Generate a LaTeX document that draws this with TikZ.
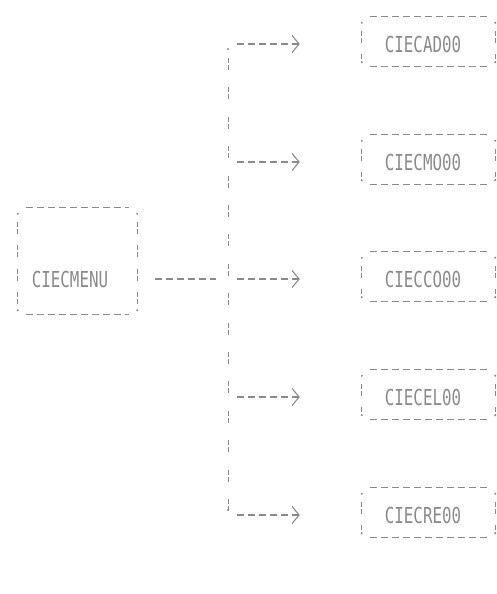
\documentclass[tikz,border=0pt]{standalone}
\usepackage{fontspec}
\newfontfamily\dotfont[FakeStretch=0.72]{DejaVu Sans Mono}
\usetikzlibrary{arrows.meta,calc}
\definecolor{ink}{HTML}{8A8A8A}
\begin{document}
\begin{tikzpicture}[x=1pt,y=-1pt,
  hdash/.style={draw=ink, line width=1.2pt, dash pattern=on 7pt off 4pt},
  vdash/.style={draw=ink, line width=1pt, dash pattern=on 5pt off 2pt on 5pt off 17.4pt},
  sidedash/.style={draw=ink, line width=1pt, dash pattern=on 5pt off 2pt on 5pt off 11.5pt},
  lbl/.style={text=ink, font=\dotfont\fontsize{22}{22}\selectfont, inner sep=0pt},
  frame/.style={inner sep=0pt, minimum width=#1},
  arr/.style={-{Straight Barb[length=7pt,width=17pt,line width=1.1pt]}},
  cdot/.style={fill=ink, draw=none, circle, inner sep=0pt, minimum size=2.2pt}]
\useasboundingbox (0,0) rectangle (497,594);

% left box
\node[frame=119pt, minimum height=106pt] (mframe) at (77.5,261) {};
\node[lbl] (menu) at (70,279) {CIECMENU};

% right boxes
\foreach \i/\y/\t in {1/44/CIECAD00, 2/162/CIECMO00, 3/279/CIECCO00, 4/397/CIECEL00, 5/515/CIECRE00}{
  \node[frame=133pt, minimum height=49pt] (f\i) at (428.5,\y-2.5) {};
  \node[lbl] (b\i) at (423,\y) {\t};
  \coordinate (j\i) at (228,\y);
}

% frames
\foreach \n in {mframe,f1,f2,f3,f4,f5}{
  \draw[hdash] ([xshift=8pt]\n.north west) -- ([xshift=-8pt]\n.north east);
  \draw[hdash] ([xshift=8pt]\n.south west) -- ([xshift=-8pt]\n.south east);
  \draw[sidedash] ([yshift=-14pt]\n.north west) -- ([yshift=4pt]\n.south west);
  \draw[sidedash] ([yshift=-14pt]\n.north east) -- ([yshift=4pt]\n.south east);
  \node[cdot] at ([yshift=-6pt]\n.north west) {};
  \node[cdot] at ([yshift=-6pt]\n.north east) {};
  \node[cdot] at ([yshift=4pt]\n.south west) {};
  \node[cdot] at ([yshift=4pt]\n.south east) {};
}

% trunk
\draw[hdash] ([xshift=18pt]mframe.east |- j3) -- ([xshift=-12pt]j3);
\draw[vdash] ([yshift=-14pt]j1) -- (j5);
\node[cdot] at ([yshift=-5pt]j1) {};
\node[cdot] at ([yshift=5pt]j5) {};

% arrows
\foreach \i in {1,...,5}{
  \draw[hdash,arr] ([xshift=9pt]j\i) -- ([xshift=-62pt]f\i.west |- j\i);
}
\end{tikzpicture}
\end{document}
